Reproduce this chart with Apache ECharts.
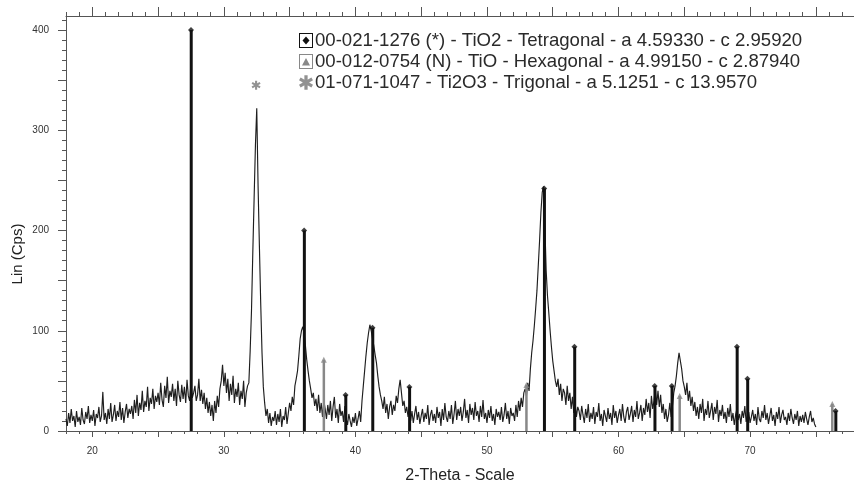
<!DOCTYPE html>
<html>
<head>
<meta charset="utf-8">
<script src="https://cdn.jsdelivr.net/npm/echarts@6/dist/echarts.min.js"></script>
<style>
  html, body { margin: 0; padding: 0; background: #fff; }
  #chart { width: 854px; height: 483px; }
</style>
</head>
<body>
<div id="chart"></div>
<script>
// scan settings (2-theta start and step of the measured pattern)
const scanStart = 18.0
const scanStep = 0.1
// measured counts, one row per degree (x.0 ... x.9)
const counts = [
  12, 5, 18, 8, 22, 10, 15, 4, 20, 9,        // 18
  14, 6, 23, 11, 7, 19, 12, 25, 8, 16,       // 19
  10, 21, 5, 17, 13, 24, 9, 15, 39, 11,      // 20
  18, 7, 22, 12, 28, 9, 16, 26, 10, 20,      // 21
  14, 29, 11, 23, 8, 19, 27, 13, 22, 17,     // 22
  25, 12, 31, 18, 36, 15, 28, 21, 40, 19,    // 23
  30, 24, 44, 20, 33, 27, 42, 22, 35, 29,    // 24
  38, 26, 48, 31, 24, 45, 33, 54, 28, 40,    // 25
  34, 47, 30, 42, 25, 50, 36, 29, 46, 32,    // 26
  44, 28, 51, 35, 30, 48, 33, 38, 45, 30,    // 27
  36, 52, 30, 41, 27, 38, 22, 33, 18, 29,    // 28
  15, 26, 10, 30, 18, 35, 24, 42, 50, 66,    // 29
  45, 58, 38, 52, 30, 47, 36, 55, 28, 42,    // 30
  34, 48, 26, 40, 32, 50, 24, 38, 45, 48,    // 31
  80, 120, 178, 232, 285, 322, 245, 185, 128, 78, // 32
  44, 28, 15, 22, 8, 18, 5, 14, 10, 20,      // 33
  6, 17, 9, 22, 4, 15, 11, 24, 7, 18,        // 34
  28, 20, 34, 26, 45, 52, 60, 75, 92, 100,   // 35
  104, 98, 85, 71, 60, 50, 42, 33, 38, 25,   // 36
  32, 20, 36, 18, 28, 14, 30, 22, 12, 26,    // 37
  16, 30, 10, 24, 34, 13, 22, 8, 27, 15,     // 38
  20, 9, 25, 12, 6, 17, 10, 4, 14, 8,        // 39
  18, 5, 12, 20, 9, 30, 45, 60, 75, 88,      // 40
  98, 106, 100, 92, 85, 76, 68, 55, 44, 36,  // 41
  30, 22, 34, 18, 27, 12, 24, 30, 16, 26,    // 42
  20, 35, 28, 42, 51, 38, 25, 30, 18, 24,    // 43
  14, 26, 10, 20, 8, 17, 25, 11, 19, 7,      // 44
  15, 22, 9, 18, 12, 26, 6, 16, 21, 10,      // 45
  17, 8, 24, 13, 19, 5, 22, 11, 28, 14,      // 46
  9, 20, 12, 26, 7, 17, 30, 11, 22, 15,      // 47
  24, 10, 19, 32, 13, 21, 8, 27, 16, 23,     // 48
  11, 29, 15, 20, 9, 25, 14, 31, 12, 18,     // 49
  8, 21, 13, 25, 10, 17, 6, 22, 14, 19,      // 50
  11, 24, 9, 16, 28, 12, 20, 7, 23, 15,      // 51
  18, 10, 26, 14, 30, 20, 33, 24, 38, 42,    // 52
  35, 48, 40, 62, 78, 90, 105, 122, 140, 165, // 53
  190, 218, 238, 244, 205, 160, 135, 118, 100, 84, // 54
  70, 60, 50, 44, 52, 36, 47, 30, 42, 38,    // 55
  26, 45, 30, 38, 22, 34, 18, 28, 14, 24,    // 56
  20, 11, 25, 16, 8, 22, 13, 27, 9, 18,      // 57
  12, 24, 7, 19, 14, 28, 10, 17, 5, 21,      // 58
  15, 9, 23, 12, 18, 6, 26, 13, 20, 8,       // 59
  16, 22, 10, 27, 14, 8, 19, 24, 11, 17,     // 60
  25, 9, 21, 14, 30, 12, 18, 26, 10, 23,     // 61
  16, 32, 19, 28, 13, 35, 22, 30, 42, 26,    // 62
  40, 24, 36, 18, 27, 12, 22, 9, 16, 28,     // 63
  14, 25, 38, 45, 55, 68, 78, 70, 62, 50,    // 64
  44, 36, 48, 30, 40, 25, 34, 20, 29, 15,    // 65
  24, 12, 27, 18, 32, 10, 22, 16, 30, 13,    // 66
  20, 28, 11, 24, 17, 31, 9, 21, 15, 26,     // 67
  12, 19, 8, 23, 14, 27, 10, 18, 6, 16,      // 68
  22, 11, 17, 7, 20, 13, 25, 9, 15, 19,      // 69
  8, 14, 21, 10, 17, 6, 24, 12, 9, 20,       // 70
  13, 26, 11, 18, 7, 15, 23, 10, 16, 5,      // 71
  19, 12, 24, 8, 16, 21, 11, 14, 6, 18,      // 72
  10, 22, 13, 7, 17, 11, 20, 5, 15, 9,       // 73
  16, 8, 19, 12, 6, 14, 20, 9, 13, 7,        // 74
  4                                          // 75
]

// reference cards
const tio2Name = '00-021-1276 (*) - TiO2 - Tetragonal - a 4.59330 - c 2.95920'
const tio2Pos = [27.5, 36.1, 39.25, 41.3, 44.1, 54.35, 56.65, 62.75, 64.05, 69.0, 69.8, 76.5]
const tio2Int = [400, 200, 36, 103, 44, 242, 84, 45, 45, 84, 52, 20]

const tioName = '00-012-0754 (N) - TiO - Hexagonal - a 4.99150 - c 2.87940'
const tioPos = [37.6, 53.0, 64.65, 76.25]
const tioInt = [71, 46, 35, 27]

const ti2o3Name = '01-071-1047 - Ti2O3 - Trigonal - a 5.1251 - c 13.9570'
const ti2o3Pos = [32.45]
const ti2o3Mark = [345]

// axis ticks
const xMajor = [20, 25, 30, 35, 40, 45, 50, 55, 60, 65, 70, 75]
const xLabels = [20, 30, 40, 50, 60, 70]
const xMinor = []
for (let v = 18; v <= 77; v++) xMinor.push(v)
const yMajor = [0, 50, 100, 150, 200, 250, 300, 350, 400]
const yLabels = [0, 100, 200, 300, 400]
const yMinor = []
for (let v = 0; v <= 410; v += 10) yMinor.push(v)

const FONT = '"Liberation Sans", Arial, sans-serif'
const AXIS = '#555'

const profile = counts.map((c, i) => [+(scanStart + i * scanStep).toFixed(2), c])
const pairs = (xs, ys) => xs.map((x, i) => [x, ys[i]])

const boxFrame = 'M0 0 H14 V15 H0 Z M1 1 V14 H13 V1 Z '
const iconDiamond = 'path://' + boxFrame + 'M7 3.5 L10.5 7.5 L7 11.5 L3.5 7.5 Z'
const iconTriangle = 'path://' + boxFrame + 'M7 4 L11 11.5 L3 11.5 Z'
const starPath = 'path://M5.4 14 L8.6 14 L8.6 0 L5.4 0 Z ' +
  'M12.262 11.886 L13.862 9.114 L1.738 2.114 L0.138 4.886 Z ' +
  'M0.138 9.114 L1.738 11.886 L13.862 4.886 L12.262 2.114 Z'

function xAx(pos, ticks, len, showLine, labels) {
  return {
    type: 'value', position: pos, min: 18, max: 77.9,
    axisLine: { show: showLine, onZero: false, lineStyle: { color: AXIS, width: 1 } },
    axisTick: { show: true, customValues: ticks, length: len, lineStyle: { color: AXIS } },
    axisLabel: labels
      ? { show: true, customValues: labels, margin: 15, fontSize: 10, color: '#333', fontFamily: FONT }
      : { show: false },
    splitLine: { show: false }
  }
}

const chart = echarts.init(document.getElementById('chart'), null, { renderer: 'canvas' })
chart.setOption({
  backgroundColor: '#fff',
  animation: false,
  grid: { left: 66, right: 0, top: 16, bottom: 52, containLabel: false, outerBoundsMode: 'none' },
  legend: {
    orient: 'vertical', left: 299, top: 31, padding: 0,
    itemWidth: 14, itemHeight: 15, itemGap: 2, selectedMode: false,
    textStyle: { fontSize: 18.6, color: '#2a2a2a', fontFamily: FONT, padding: [0, 0, 0, -3] },
    data: [
      { name: tio2Name, icon: iconDiamond },
      { name: tioName, icon: iconTriangle },
      { name: ti2o3Name, icon: starPath }
    ]
  },
  xAxis: [
    Object.assign(xAx('bottom', xMajor, 6, true, xLabels), {
      name: '2-Theta - Scale', nameLocation: 'middle', nameGap: 37,
      nameTextStyle: { fontSize: 16, color: '#222', fontFamily: FONT }
    }),
    xAx('bottom', xMinor, 3, false, null),
    xAx('top', xMajor, 9, true, null),
    xAx('top', xMinor, 4, false, null)
  ],
  yAxis: [
    {
      type: 'value', min: 0, max: 414,
      axisLine: { show: true, lineStyle: { color: AXIS } },
      axisTick: { show: true, customValues: yMajor, length: 8, lineStyle: { color: AXIS } },
      axisLabel: { customValues: yLabels, margin: 17, fontSize: 10, color: '#333', fontFamily: FONT },
      splitLine: { show: false }
    },
    {
      type: 'value', min: 0, max: 414, position: 'left',
      axisLine: { show: false },
      axisTick: { show: true, customValues: yMinor, length: 4, lineStyle: { color: AXIS } },
      axisLabel: { show: false },
      splitLine: { show: false }
    }
  ],
  graphic: [{
    type: 'text', x: 18, y: 254, rotation: Math.PI / 2,
    style: {
      text: 'Lin (Cps)', fontSize: 15, fontFamily: FONT, fill: '#222',
      align: 'center', verticalAlign: 'middle', textAlign: 'center', textVerticalAlign: 'middle'
    }
  }],
  series: [
    {
      name: 'profile', type: 'line', data: profile, showSymbol: false,
      lineStyle: { color: '#1e1e1e', width: 1.15 }, z: 2
    },
    {
      name: tio2Name, type: 'bar', data: pairs(tio2Pos, tio2Int),
      barWidth: 3, barGap: '-100%', itemStyle: { color: '#111' }, z: 3
    },
    {
      name: tio2Name, type: 'scatter', data: pairs(tio2Pos, tio2Int),
      symbol: 'diamond', symbolSize: [6, 6], itemStyle: { color: '#111' }, z: 4
    },
    {
      name: tioName, type: 'bar', data: pairs(tioPos, tioInt),
      barWidth: 2.5, barGap: '-100%', itemStyle: { color: '#888' }, z: 3
    },
    {
      name: tioName, type: 'scatter', data: pairs(tioPos, tioInt),
      symbol: 'triangle', symbolSize: [6, 6], itemStyle: { color: '#888' }, z: 4
    },
    {
      name: ti2o3Name, type: 'scatter', data: pairs(ti2o3Pos, ti2o3Mark),
      symbol: starPath, symbolSize: [9, 9], itemStyle: { color: '#777' }, z: 4
    }
  ]
})
</script>
</body>
</html>
